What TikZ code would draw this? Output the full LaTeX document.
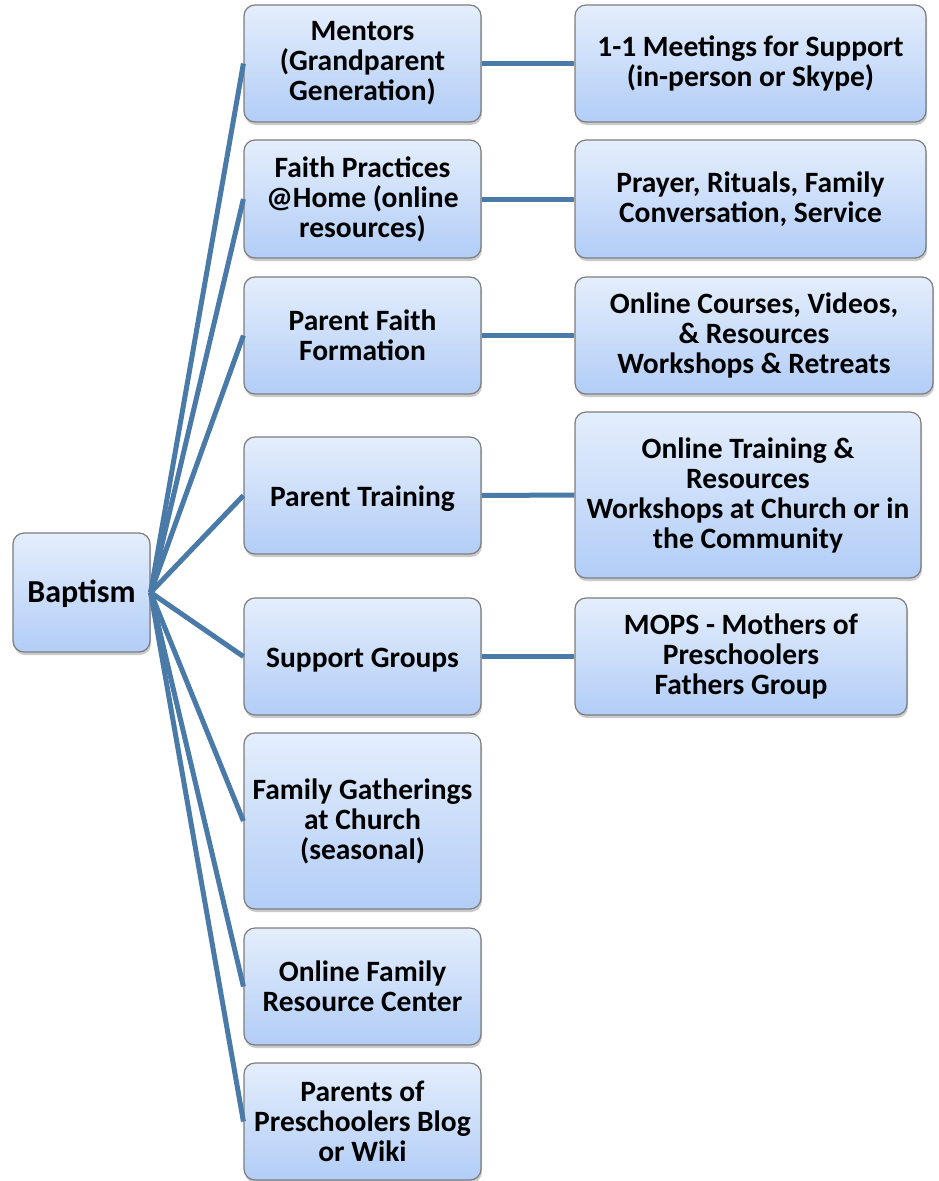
\documentclass[tikz,border=0pt]{standalone}
\usepackage{fontspec}
\setmainfont{Carlito}
\usetikzlibrary{shadows}
\definecolor{linkblue}{RGB}{74,123,168}
\definecolor{boxtop}{RGB}{228,238,252}
\definecolor{boxbot}{RGB}{178,205,247}
\definecolor{boxedge}{RGB}{125,125,125}
\tikzset{
  bx/.style={draw=boxedge, line width=1.2pt, rounded corners=11pt,
    top color=boxtop, bottom color=boxbot, align=center, inner sep=2pt,
    font=\fontsize{29.5}{30}\selectfont\bfseries,
    execute at begin node={\rule{0pt}{26pt}},
    drop shadow={shadow xshift=1pt, shadow yshift=-3pt, opacity=0.35, fill=black!60}},
  link/.style={draw=linkblue, line width=5pt}
}
\begin{document}
\begin{tikzpicture}[x=1pt,y=-1pt]
\useasboundingbox (0,0) rectangle (938,1181);
% root
\node[bx, font=\fontsize{32}{32}\selectfont\bfseries, minimum width=137pt, minimum height=119pt] (bap) at (81.5,592.5) {Baptism};
% middle column
\node[bx, minimum width=237pt, minimum height=117pt] (m1) at (362.5,63.5) {Mentors\\(Grandparent\\Generation)};
\node[bx, minimum width=237pt, minimum height=118pt] (m2) at (362.5,199) {Faith Practices\\@Home (online\\resources)};
\node[bx, minimum width=237pt, minimum height=117pt] (m3) at (362.5,335.5) {Parent Faith\\Formation};
\node[bx, minimum width=237pt, minimum height=117pt] (m4) at (362.5,495.5) {Parent Training};
\node[bx, minimum width=237pt, minimum height=117pt] (m5) at (362.5,656.5) {Support Groups};
\node[bx, minimum width=237pt, minimum height=176pt] (m6) at (362.5,821) {Family Gatherings\\at Church\\(seasonal)};
\node[bx, minimum width=237pt, minimum height=117pt] (m7) at (362.5,986.5) {Online Family\\Resource Center};
\node[bx, minimum width=237pt, minimum height=117pt] (m8) at (362.5,1121.5) {Parents of\\Preschoolers Blog\\or Wiki};
% right column
\node[bx, minimum width=351pt, minimum height=117pt] (r1) at (750.5,63.5) {1-1 Meetings for Support\\(in-person or Skype)};
\node[bx, minimum width=351pt, minimum height=118pt] (r2) at (750.5,199) {Prayer, Rituals, Family\\Conversation, Service};
\node[bx, minimum width=358pt, minimum height=117pt] (r3) at (754,335.5) {Online Courses, Videos,\\\& Resources\\Workshops \& Retreats};
\node[bx, minimum width=346pt, minimum height=166pt] (r4) at (748,495) {Online Training \&\\Resources\\Workshops at Church or in\\the Community};
\node[bx, minimum width=332pt, minimum height=117pt] (r5) at (741,656.5) {MOPS - Mothers of\\Preschoolers\\Fathers Group};
% connectors
\foreach \m in {m1,m2,m3,m4,m5,m6,m7,m8}{
  \draw[link] (bap.east) -- (\m.west);
}
\draw[link] (m1.east) -- (r1.west);
\draw[link] (m2.east) -- (r2.west);
\draw[link] (m3.east) -- (r3.west);
\draw[link] (m4.east) -- (r4.west);
\draw[link] (m5.east) -- (r5.west);
\end{tikzpicture}
\end{document}
